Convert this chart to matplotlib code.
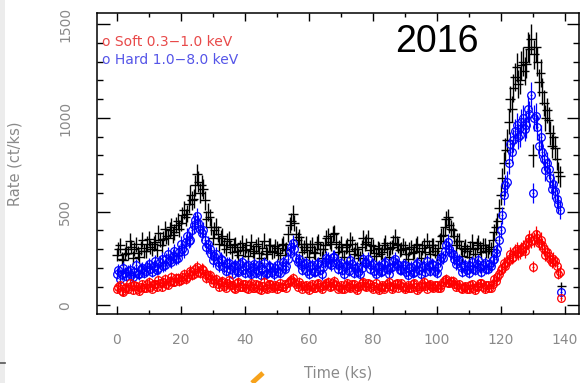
import numpy as np
import matplotlib
matplotlib.use("Agg")
import matplotlib.pyplot as plt
from matplotlib.ticker import MultipleLocator
from matplotlib.lines import Line2D
from matplotlib.patches import Rectangle

# Count rates (ct/ks) in 0.5 ks bins starting at t = 0
bin_width_ks = 0.5

hard_rate = [
    170, 190, 140, 165, 200, 175, 155, 185, 190, 160, 150, 180, 215, 170, 165, 195, 200, 175, 185, 205,
    220, 195, 180, 210, 235, 190, 200, 230, 250, 210, 215, 245, 275, 240, 230, 265, 290, 250, 255, 285,
    330, 300, 290, 340, 370, 345, 350, 400, 430, 455, 475, 440, 410, 385, 400, 350, 310, 330, 300, 275,
    240, 265, 275, 230, 210, 250, 240, 205, 185, 225, 225, 195, 170, 210, 215, 185, 180, 220, 230, 190,
    175, 210, 215, 180, 165, 205, 220, 175, 190, 215, 160, 195, 225, 170, 175, 210, 205, 180, 165, 200,
    215, 180, 175, 210, 230, 195, 210, 250, 290, 310, 335, 300, 255, 230, 245, 215, 190, 220, 225, 185,
    170, 210, 215, 180, 180, 220, 225, 190, 165, 205, 230, 255, 250, 225, 215, 260, 260, 225, 195, 215,
    225, 190, 170, 210, 215, 185, 240, 220, 175, 200, 205, 180, 165, 200, 245, 225, 225, 250, 195, 215,
    220, 185, 170, 205, 210, 180, 185, 220, 230, 195, 165, 200, 205, 235, 250, 220, 215, 190, 190, 215,
    215, 180, 160, 200, 205, 175, 180, 215, 225, 190, 165, 205, 210, 180, 235, 210, 185, 220, 215, 185,
    175, 205, 240, 260, 255, 290, 320, 340, 300, 280, 275, 250, 220, 240, 240, 205, 180, 210, 215, 190,
    175, 210, 230, 195, 190, 220, 240, 205, 180, 215, 225, 195, 195, 220, 210, 240, 245, 280, 300, 350,
    400, 480, 590, 640, 660, 760, 860, 820, 880, 930, 960, 900, 910, 980, 1000, 940, 960, 1050, 1020, 1120,
    600, 1000, 1010, 950, 850, 900, 820, 780, 720, 760, 730, 680, 620, 650, 610, 570, 540, 510, 70,
]

soft_rate = [
    85, 100, 110, 75, 70, 95, 100, 85, 120, 105, 80, 110, 105, 90, 75, 100, 115, 95, 95, 115,
    125, 100, 90, 115, 115, 100, 135, 120, 100, 125, 140, 115, 110, 130, 150, 125, 125, 145, 145, 130,
    135, 150, 165, 140, 150, 170, 185, 160, 170, 195, 205, 180, 175, 195, 190, 165, 145, 160, 160, 140,
    120, 135, 140, 115, 100, 125, 130, 105, 95, 120, 135, 110, 110, 95, 90, 120, 125, 100, 100, 115,
    115, 95, 85, 110, 120, 95, 95, 115, 110, 90, 80, 105, 125, 95, 90, 115, 115, 95, 100, 110,
    85, 105, 120, 100, 100, 115, 95, 120, 130, 135, 145, 125, 115, 100, 125, 110, 90, 105, 110, 95,
    80, 105, 115, 95, 95, 115, 120, 100, 85, 105, 110, 120, 125, 100, 105, 120, 130, 110, 90, 100,
    110, 90, 85, 110, 120, 100, 95, 115, 115, 95, 80, 100, 105, 120, 125, 105, 100, 120, 115, 100,
    90, 105, 120, 95, 80, 100, 110, 90, 100, 115, 125, 105, 85, 100, 115, 120, 95, 110, 120, 100,
    85, 100, 110, 95, 95, 115, 120, 100, 80, 95, 105, 115, 125, 105, 90, 110, 115, 100, 95, 110,
    110, 95, 95, 110, 125, 135, 140, 120, 120, 130, 130, 115, 100, 110, 115, 95, 85, 100, 105, 90,
    90, 110, 115, 95, 80, 100, 105, 120, 120, 100, 85, 110, 110, 95, 95, 115, 140, 130, 150, 165,
    190, 200, 225, 210, 230, 250, 275, 255, 260, 290, 300, 280, 285, 300, 310, 290, 320, 340, 360, 345,
    207, 350, 380, 360, 335, 350, 320, 300, 270, 285, 265, 245, 230, 250, 235, 210, 170, 180, 37,
]

total_rate = [
    270, 300, 320, 250, 240, 275, 300, 280, 345, 310, 255, 300, 325, 280, 260, 305, 350, 290, 290, 330,
    355, 310, 300, 330, 340, 295, 385, 350, 320, 355, 405, 370, 360, 400, 420, 375, 390, 430, 450, 410,
    440, 480, 510, 470, 490, 540, 590, 560, 570, 640, 700, 660, 600, 640, 620, 560, 460, 500, 470, 420,
    360, 400, 420, 380, 330, 360, 370, 320, 300, 345, 355, 310, 285, 320, 325, 290, 270, 310, 335, 295,
    295, 320, 265, 300, 340, 290, 280, 315, 325, 280, 255, 305, 345, 290, 275, 320, 320, 285, 290, 315,
    305, 280, 270, 320, 330, 295, 300, 380, 430, 450, 490, 440, 380, 350, 365, 330, 285, 310, 330, 295,
    260, 310, 325, 285, 280, 330, 340, 300, 255, 300, 320, 360, 370, 340, 330, 380, 385, 340, 285, 310,
    330, 290, 260, 310, 320, 290, 350, 330, 275, 300, 300, 270, 255, 310, 360, 330, 340, 360, 295, 320,
    315, 280, 265, 305, 300, 275, 285, 320, 335, 300, 260, 305, 310, 335, 365, 330, 320, 295, 300, 320,
    305, 275, 250, 300, 310, 280, 285, 320, 330, 290, 255, 305, 320, 285, 345, 310, 275, 320, 320, 290,
    270, 305, 345, 370, 375, 420, 460, 470, 430, 410, 400, 370, 320, 345, 345, 305, 265, 300, 315, 290,
    260, 305, 340, 300, 275, 320, 335, 305, 285, 320, 320, 290, 290, 310, 300, 350, 390, 420, 450, 520,
    590, 680, 760, 830, 880, 980, 1100, 1050, 1160, 1220, 1270, 1180, 1200, 1280, 1300, 1250, 1290, 1380, 1370, 1420,
    800, 1340, 1380, 1300, 1190, 1240, 1140, 1080, 1000, 1040, 990, 920, 850, 900, 840, 780, 710, 690, 105,
]

x_ticks = [0, 20, 40, 60, 80, 100, 120, 140]
y_ticks = [0, 500, 1000, 1500]

exposure_ks = 0.22  # effective exposure per bin for Poisson errors


def poisson_err(rate):
    r = np.asarray(rate, dtype=float)
    return np.sqrt(r * exposure_ks) / exposure_ks


W, H, DPI = 583, 383, 100
fig = plt.figure(figsize=(W / DPI, H / DPI), dpi=DPI)
fig.patch.set_facecolor("white")

ax = fig.add_axes([97 / W, 1 - 314 / H, (579 - 97) / W, (314 - 13) / H])

t = bin_width_ks * np.arange(len(total_rate))

ax.errorbar(t, total_rate, xerr=1.5, yerr=poisson_err(total_rate),
            fmt="none", ecolor="black", elinewidth=1.0, capsize=0, zorder=2)
ax.errorbar(t, hard_rate, xerr=0.3, yerr=poisson_err(hard_rate), fmt="o",
            mfc="none", mec="#0000ff", ecolor="#0000ff", ms=5.5, mew=0.9,
            elinewidth=0.9, capsize=0, zorder=3)
ax.errorbar(t, soft_rate, xerr=0.3, yerr=poisson_err(soft_rate), fmt="o",
            mfc="none", mec="#ff0000", ecolor="#ff0000", ms=5.5, mew=0.9,
            elinewidth=0.9, capsize=0, zorder=4)

ax.set_xlim(-6.2, 144.5)
ax.set_ylim(-46, 1560)

ax.set_xticks(x_ticks)
ax.set_yticks(y_ticks)
ax.xaxis.set_minor_locator(MultipleLocator(10))
ax.yaxis.set_minor_locator(MultipleLocator(100))

grey = "#8a8a8a"
ax.tick_params(axis="x", which="major", direction="in", length=6, width=1.0,
               top=True, pad=14, labelsize=10, labelcolor=grey)
ax.tick_params(axis="x", which="minor", direction="in", length=3, width=1.0,
               top=True)
ax.tick_params(axis="y", which="major", direction="in", length=9, width=1.0,
               right=True, pad=18, labelsize=10, labelcolor=grey)
ax.tick_params(axis="y", which="minor", direction="in", length=4.5, width=1.0,
               right=True)
for lab in ax.get_yticklabels():
    lab.set_rotation(90)
    lab.set_va("center")

for sp in ax.spines.values():
    sp.set_linewidth(1.1)

ax.set_xlabel("Time (ks)", fontsize=10.5, color=grey, va="center")
ax.xaxis.set_label_coords(0.5, -0.196)
ax.set_ylabel("Rate (ct/ks)", fontsize=10.5, color=grey)
ax.yaxis.set_label_coords(-0.155, 0.5)

ax.text(0.01, 0.905, "o Soft 0.3\u22121.0 keV", transform=ax.transAxes,
        color="#e84a4a", fontsize=10, va="center", ha="left")
ax.text(0.01, 0.843, "o Hard 1.0\u22128.0 keV", transform=ax.transAxes,
        color="#5555e8", fontsize=10, va="center", ha="left")

ax.text(395 / W, 1 - 42 / H, "2016", transform=fig.transFigure,
        fontsize=27, family="Liberation Sans", color="black",
        ha="left", va="center")

# page edge details around the figure
fig.patches.append(Rectangle((0, 0), 5 / W, 1, transform=fig.transFigure,
                             facecolor="#ececec", edgecolor="none", zorder=0))
fig.lines.append(Line2D([0, 5 / W], [1 - 363 / H, 1 - 363 / H],
                        transform=fig.transFigure, color="#555555", lw=1.2))
fig.lines.append(Line2D([252 / W, 263 / W], [1 - 383 / H, 1 - 373 / H],
                        transform=fig.transFigure, color="#f7a21b", lw=3.5,
                        solid_capstyle="butt"))

fig.savefig("out.png", dpi=DPI)
